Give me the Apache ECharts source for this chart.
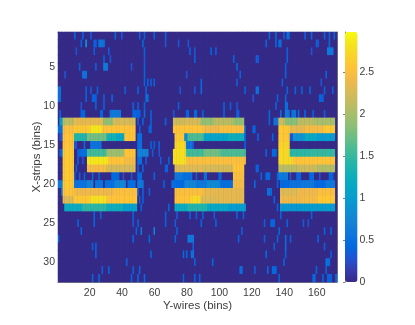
<!DOCTYPE html>
<html>
<head>
<meta charset="utf-8">
<title>X-strips vs Y-wires</title>
<script src="https://cdn.jsdelivr.net/npm/echarts@6/dist/echarts.min.js"></script>
<style>
  html, body { margin: 0; background: #fff; }
  #myChart { width: 415px; height: 325px; }
  /* the source picture is a soft downscaled image */
  #myChart canvas { filter: blur(0.45px); }
</style>
</head>
<body>
<div id="myChart"></div>
<script>
// counts per cell, written as [first bin, last bin, value]; anything not listed is 0
const row01 = [[11,11,.4],[16,16,.4],[21,21,.35],[36,36,.4],[40,40,.3],[51,51,.4],[54,54,.4],[60,60,.4],[67,67,.4],[131,131,.45],[135,135,.45],[140,140,.35],[142,143,.5],[153,153,.4],[157,157,.45],[165,165,.4],[168,168,.35],[171,171,.4]];
const row02 = [[15,15,.4],[18,18,1.0],[23,24,.4],[26,29,.55],[53,53,.45],[67,67,.3],[75,75,.3],[81,81,.3],[129,129,.4],[135,135,.45],[137,138,.5],[160,161,.35],[168,168,.45]];
const row03 = [[12,12,.3],[23,23,.35],[32,32,.35],[54,54,.4],[82,82,.4],[85,85,.3],[95,95,.4],[98,98,.35],[142,142,.4],[157,157,.3],[167,170,.6]];
const row04 = [[29,29,.4],[33,33,.3],[54,54,.3],[85,85,.4],[109,109,.4],[123,124,.35],[142,142,.4]];
const row05 = [[14,14,.4],[24,24,.35],[29,31,.6],[46,46,.3],[54,54,.4],[111,111,.45],[141,141,.4]];
const row06 = [[5,5,.3],[16,18,.55],[54,54,.4],[80,80,.3],[113,113,.4],[141,141,.4],[166,166,.4]];
const row07 = [[54,54,.4],[56,56,.35],[58,58,.4],[60,60,.35],[89,89,.45],[111,111,.35],[139,139,.4],[163,163,.3]];
const row08 = [[1,2,.55],[18,18,.4],[21,21,.3],[25,25,.4],[42,42,.35],[50,50,.4],[55,55,.4],[76,76,.3],[85,85,.3],[89,89,.5],[116,116,.4],[123,124,.55],[142,142,.4],[147,147,.4],[151,151,.4],[156,156,.4],[165,165,.4],[170,170,.4]];
const row09 = [[1,2,.5],[18,18,.4],[22,24,.4],[29,29,.35],[34,34,.4],[55,56,.5],[121,121,.3],[136,136,.4],[141,141,.45],[162,164,.4]];
const row10 = [[15,15,.3],[24,24,.4],[29,29,.4],[47,47,.35],[50,50,.4],[54,54,.4],[75,75,.35],[103,103,.4],[107,107,.4],[111,111,.3],[135,135,.4],[141,142,.5]];
const row11 = [[2,2,.4],[15,17,.4],[27,28,.4],[33,39,.6],[47,51,.4],[54,54,.5],[58,58,.4],[72,72,.3],[80,81,.4],[85,86,.45],[90,90,.4],[103,103,.4],[111,112,.35],[131,131,.45],[138,138,.5],[141,143,.6],[145,147,.55],[149,149,.5],[153,153,.45],[158,158,.4],[165,165,.35]];
const row12 = [[2,3,1.0],[4,10,2.1],[11,28,2.35],[29,34,1.9],[35,48,2.25],[50,50,.4],[53,53,.4],[58,58,.4],[67,67,.4],[72,78,2.2],[79,88,2.25],[89,96,1.9],[97,108,2.1],[109,115,1.9],[131,131,.4],[134,136,.55],[137,140,2.2],[141,148,1.85],[149,158,2.1],[159,171,2.0]];
const row13 = [[1,3,.5],[4,10,2.5],[11,20,2.6],[21,27,2.85],[28,48,2.55],[51,51,.4],[57,58,.4],[72,90,2.55],[91,100,2.4],[101,115,2.5],[116,116,.45],[121,122,.4],[137,143,2.6],[144,152,2.35],[153,164,2.45],[165,171,2.6]];
const row14 = [[2,3,.3],[4,10,2.55],[11,18,1.4],[19,30,1.75],[31,36,1.3],[37,41,1.15],[42,48,2.55],[50,52,.5],[73,78,2.6],[79,80,.8],[81,90,1.6],[91,105,1.1],[106,115,1.25],[116,116,.4],[124,124,.4],[133,133,.4],[137,143,2.6],[144,145,.3],[146,152,.9],[153,160,1.15],[161,171,1.0]];
const row15 = [[4,10,2.55],[11,12,.3],[17,17,.5],[21,27,.55],[50,52,.5],[58,58,.4],[60,60,.4],[63,63,.4],[73,79,2.75],[80,83,.55],[84,84,.3],[116,116,.4],[137,143,2.7]];
const row16 = [[2,3,.4],[4,10,2.6],[13,14,.4],[15,18,.5],[19,30,1.55],[31,41,1.95],[42,48,2.55],[50,56,.7],[59,59,.35],[63,63,.3],[72,79,2.8],[80,90,1.55],[91,100,1.75],[101,116,1.6],[129,129,.4],[133,135,.45],[137,143,2.75],[144,155,1.45],[156,171,1.5]];
const row17 = [[4,10,2.6],[13,13,.4],[16,16,.3],[19,31,2.85],[32,41,2.55],[42,48,2.45],[50,52,.5],[55,55,.35],[64,64,.35],[69,69,.4],[72,79,2.8],[80,116,2.5],[137,145,2.75],[146,171,2.55]];
const row18 = [[4,10,2.6],[12,12,.4],[19,30,2.45],[31,48,2.25],[50,50,.4],[53,53,.4],[67,68,.4],[73,90,2.3],[91,108,2.25],[109,115,2.55],[123,124,.4],[137,148,2.1],[149,160,2.2],[161,171,2.05]];
const row19 = [[4,10,2.6],[11,11,.3],[14,14,.4],[17,17,.4],[22,22,.45],[26,26,.4],[34,38,.45],[41,41,.3],[46,46,.35],[50,52,.45],[60,60,.4],[73,77,.6],[78,83,.5],[86,86,.35],[91,92,.5],[100,101,.4],[109,115,2.5],[126,126,.4],[129,131,.45],[136,136,.4],[137,142,.6],[144,144,.35],[148,150,.4],[156,158,.45],[162,162,.3],[168,170,.4]];
const row20 = [[1,3,.6],[4,10,2.6],[11,18,.55],[19,22,.7],[24,28,.55],[30,35,.5],[36,42,.75],[44,48,.5],[50,53,.6],[66,66,.4],[71,72,.5],[73,78,.45],[79,85,.75],[86,92,.6],[93,100,.8],[101,108,.5],[109,115,2.45],[122,122,.45],[136,136,.4],[138,143,.45],[144,150,.55],[151,158,.6],[159,165,.45],[166,171,.6]];
const row21 = [[3,3,.5],[4,10,2.55],[11,35,2.4],[36,49,2.5],[50,50,.4],[53,53,.4],[57,57,.35],[73,90,2.5],[91,115,2.35],[130,132,.5],[138,148,2.3],[149,160,2.4],[161,171,2.5]];
const row22 = [[4,10,2.3],[11,20,2.6],[21,30,2.8],[31,49,2.55],[51,51,.4],[53,53,.4],[73,82,2.55],[83,88,2.75],[89,100,2.3],[101,115,2.35],[134,134,.4],[138,150,2.4],[151,160,2.45],[161,171,2.6]];
const row23 = [[5,15,1.2],[16,30,1.45],[31,40,1.25],[41,49,1.05],[52,52,.4],[69,69,.4],[73,80,1.2],[81,92,1.4],[93,105,1.15],[106,116,1.0],[136,136,.4],[138,150,.95],[151,171,1.0]];
const row24 = [[23,23,.4],[27,27,.35],[47,47,.4],[67,67,.4],[74,74,.35],[82,82,.4],[86,86,.35],[90,90,.4],[97,97,.3],[111,111,.4],[115,115,.4],[138,138,.4],[157,157,.4]];
const row25 = [[13,13,.4],[23,23,.4],[47,47,.3],[50,50,.35],[67,67,.4],[73,73,.35],[89,89,.4],[98,98,.4],[128,128,.35],[132,134,.4],[142,142,.4],[152,152,.35],[155,155,.3]];
const row26 = [[15,15,.4],[49,49,.4],[52,52,.6],[60,60,.7],[74,74,.4],[114,114,.35],[137,137,.4],[165,165,.4],[169,169,.4]];
const row27 = [[1,1,.4],[47,47,.4],[57,57,.45],[73,73,.4],[81,84,.6],[112,112,.4],[128,128,.35],[136,136,.4],[141,141,.5],[144,144,.4],[161,161,.4]];
const row28 = [[22,22,.35],[24,24,.4],[84,84,.35],[134,134,.35],[141,141,.5],[165,165,.35]];
const row29 = [[24,24,.4],[58,58,.4],[78,78,.45],[80,80,.45],[83,84,.55],[129,129,.45],[141,141,.4],[169,169,.35]];
const row30 = [[43,43,.4],[85,85,.4],[96,96,.4],[140,140,.4],[166,168,.5]];
const row31 = [[28,28,.35],[32,32,.4],[47,47,.4],[51,51,.4],[113,114,.5],[122,122,.35],[130,130,.45],[133,135,.45],[160,160,.4],[166,166,.4]];
const row32 = [[22,22,.4],[26,26,.45],[46,46,.4],[50,50,.45],[54,54,.45],[78,78,.4],[85,85,.4],[88,88,.4],[137,137,.4],[158,159,.45],[164,164,.4],[167,169,.4],[172,172,.45]];

const rows = [row01, row02, row03, row04, row05, row06, row07, row08, row09, row10, row11, row12, row13, row14, row15, row16,
    row17, row18, row19, row20, row21, row22, row23, row24, row25, row26, row27, row28, row29, row30, row31, row32];

const xBins = Array.from({length: 172}, (_, i) => String(i + 1));
const yBins = Array.from({length: 32}, (_, i) => String(i + 1));
const colorMax = 2.98;
const colorTicks = [0, 0.5, 1, 1.5, 2, 2.5];
const parula = ['#352a87','#353dad','#2053d4','#0268e1','#0d75dc','#1481d6','#108ed2','#079ccf','#06a7c6','#0fafb9','#25b5a9',
    '#42ba98','#65be86','#87bf77','#a5be6b','#c0bc60','#d9ba56','#f1b94a','#ffc337','#f9d32a','#f5e41d','#f9fb0e'];

let cells = [];
rows.forEach((spans, r) => {
    let line = new Array(172).fill(0);
    spans.forEach(s => {
        for (let b = s[0]; b <= s[1]; b++) line[b - 1] = s[2];
    });
    line.forEach((v, c) => cells.push([c, r, v]));
});

const lineColor = '#7f7f7f';
const textColor = '#404040';
const fontFamily = '"Liberation Sans", Arial, sans-serif';
// every 20th wire, every 5th strip
const every20 = i => (i + 1) % 20 === 0;
const every5 = i => (i + 1) % 5 === 0;

let myChart = echarts.init(document.getElementById('myChart'), null, {renderer: 'canvas'});
let option = {
    animation: false,
    backgroundColor: '#fff',
    grid: [
        {left: 58, top: 32, width: 279, height: 250, show: true, backgroundColor: parula[0], borderWidth: 0},
        {left: 345, top: 32, width: 12.5, height: 250}
    ],
    xAxis: [
        {
            type: 'category', gridIndex: 0, data: xBins, name: 'Y-wires (bins)', nameLocation: 'middle', nameGap: 18, nameMoveOverlap: false,
            nameTextStyle: {fontFamily: fontFamily, fontSize: 11.5, color: textColor},
            axisLine: {lineStyle: {color: lineColor}},
            axisTick: {inside: true, length: 3, alignWithLabel: true, interval: every20, lineStyle: {color: lineColor}},
            axisLabel: {interval: every20, margin: 6, fontFamily: fontFamily, fontSize: 10.5, color: textColor},
            splitLine: {show: false}
        },
        {
            type: 'category', gridIndex: 0, data: xBins, position: 'top',
            axisLine: {lineStyle: {color: lineColor}},
            axisTick: {inside: true, length: 3, alignWithLabel: true, interval: every20, lineStyle: {color: lineColor}},
            axisLabel: {show: false}
        },
        {type: 'value', gridIndex: 1, min: 0, max: 1, show: false}
    ],
    yAxis: [
        {
            type: 'category', gridIndex: 0, data: yBins, inverse: true, name: 'X-strips (bins)', nameLocation: 'middle', nameGap: 15, nameMoveOverlap: false,
            nameTextStyle: {fontFamily: fontFamily, fontSize: 11.5, color: textColor},
            axisLine: {lineStyle: {color: lineColor}},
            axisTick: {inside: true, length: 3, alignWithLabel: true, interval: every5, lineStyle: {color: lineColor}},
            axisLabel: {interval: every5, margin: 3, fontFamily: fontFamily, fontSize: 10.5, color: textColor},
            splitLine: {show: false}
        },
        {
            type: 'category', gridIndex: 0, data: yBins, inverse: true, position: 'right',
            axisLine: {lineStyle: {color: lineColor}},
            axisTick: {inside: true, length: 3, alignWithLabel: true, interval: every5, lineStyle: {color: lineColor}},
            axisLabel: {show: false}
        },
        {
            // colorbar scale
            type: 'value', gridIndex: 1, min: 0, max: colorMax, interval: 0.5, position: 'right',
            axisLine: {show: true, lineStyle: {color: lineColor}},
            axisTick: {show: true, inside: true, length: 2, lineStyle: {color: lineColor}},
            axisLabel: {
                margin: 2, fontFamily: fontFamily, fontSize: 10.5, color: textColor, showMaxLabel: false,
                formatter: v => (colorTicks.includes(v) ? String(v) : '')
            },
            splitLine: {show: false}
        }
    ],
    visualMap: {
        type: 'continuous', seriesIndex: 0, min: 0, max: colorMax, left: 345, top: 32, padding: 0,
        itemWidth: 12.5, itemHeight: 250, calculable: false, showLabel: false, text: null,
        inRange: {color: parula}
    },
    series: [{
        type: 'heatmap', xAxisIndex: 0, yAxisIndex: 0, data: cells, progressive: 0,
        itemStyle: {borderWidth: 0}, emphasis: {disabled: true}
    }]
};
myChart.setOption(option);
</script>
</body>
</html>
